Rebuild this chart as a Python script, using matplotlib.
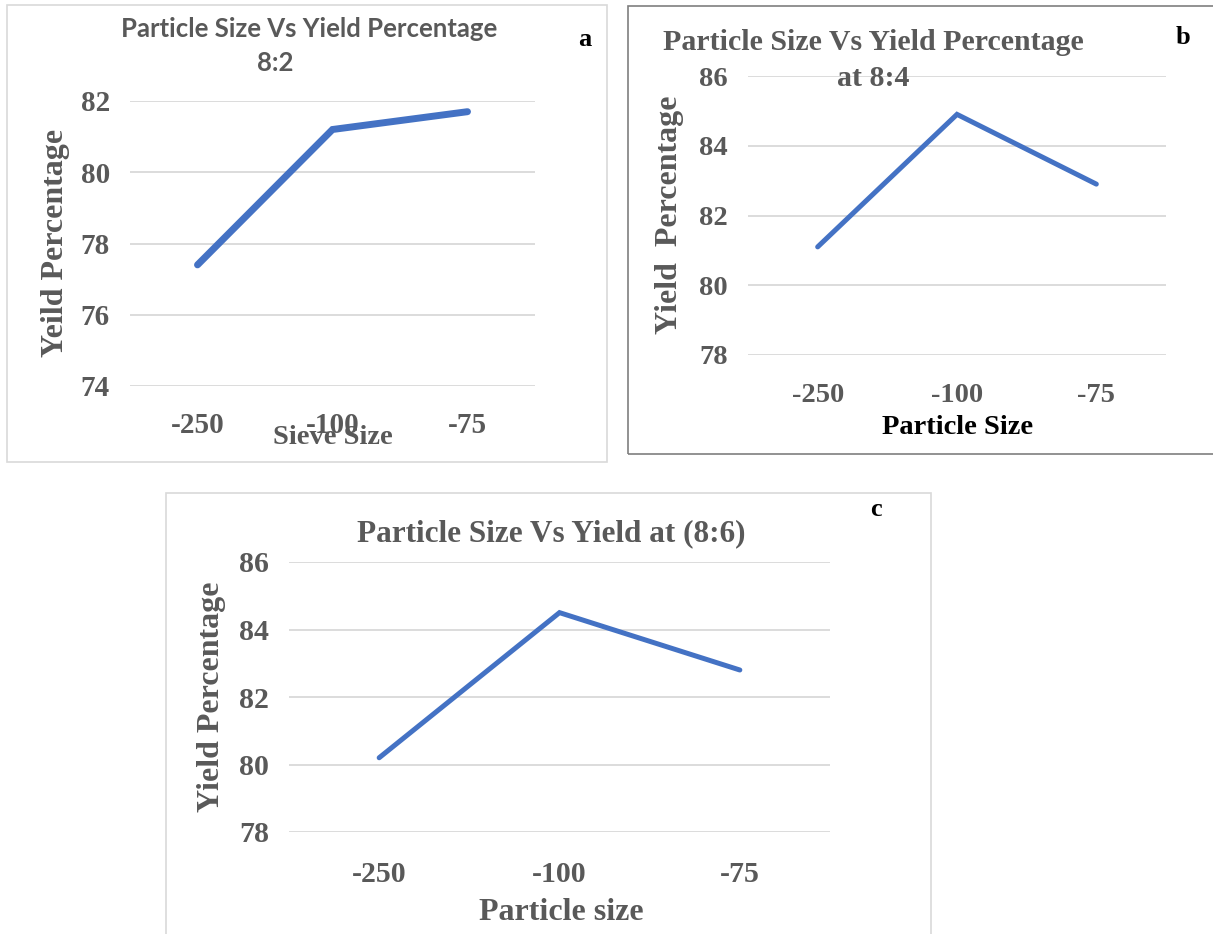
import matplotlib
matplotlib.use("Agg")
import matplotlib.pyplot as plt
from matplotlib.patches import Rectangle

# data
sizes = ["-250", "-100", "-75"]
yield_8_2 = [77.4, 81.2, 81.7]
yield_8_4 = [81.1, 84.9, 82.9]
yield_8_6 = [80.2, 84.5, 82.8]

W, H = 1213, 934
BLUE = "#4472C4"
GRAY = "#595959"
GRID = "#D9D9D9"
SERIF = "Liberation Serif"

fig = plt.figure(figsize=(W / 100, H / 100), dpi=100)


def box(x0, y0, x1, y1, color):
    fig.patches.append(Rectangle((x0 / W, 1 - y1 / H), (x1 - x0) / W, (y1 - y0) / H,
                                 transform=fig.transFigure, fill=False,
                                 edgecolor=color, lw=1.2))


def txt(x, y, s, size, color=GRAY, family=SERIF, rot=0):
    fig.text(x / W, 1 - y / H, s, ha="center", va="center", fontsize=size,
             color=color, family=family, fontweight="bold", rotation=rot)


def panel(rect, values, ylim, lw, tick_fs, ypad, xpad):
    x0, y0, x1, y1 = rect
    ax = fig.add_axes([x0 / W, 1 - y1 / H, (x1 - x0) / W, (y1 - y0) / H])
    ax.plot(range(len(sizes)), values, color=BLUE, lw=lw,
            solid_capstyle="round", solid_joinstyle="miter", clip_on=False, zorder=3)
    ax.set_xlim(-0.5, len(sizes) - 0.5)
    ax.set_ylim(*ylim)
    ax.set_yticks(range(ylim[0], ylim[1] + 1, 2))
    ax.set_xticks(range(len(sizes)))
    ax.set_xticklabels(sizes)
    ax.yaxis.grid(True, color=GRID, lw=1.3)
    ax.set_axisbelow(True)
    for s in ax.spines.values():
        s.set_visible(False)
    ax.tick_params(length=0, labelcolor=GRAY, labelsize=tick_fs)
    ax.tick_params(axis="y", pad=ypad)
    ax.tick_params(axis="x", pad=xpad)
    for t in ax.get_xticklabels() + ax.get_yticklabels():
        t.set_fontfamily(SERIF)
        t.set_fontweight("bold")
    ax.patch.set_alpha(0)
    return ax


# panel a
box(7, 5, 607, 462, "#D9D9D9")
panel((130, 101, 535, 386), yield_8_2, (74, 82), 5, 21, 14.5, 19)
txt(309, 29, "Particle Size Vs Yield Percentage", 18.5, family="Lato")
txt(275, 63, "8:2", 18.5, family="Lato")
txt(585, 40, "a", 19, color="black")
txt(55, 243, "Yeild Percentage", 23, rot=90)
txt(333, 438, "Sieve Size", 20.5)

# panel b
box(628, 6, 1225, 454, "#7F7F7F")
panel((748, 76, 1166, 355), yield_8_4, (78, 86), 3.6, 20.5, 14.5, 20)
txt(873, 42, "Particle Size Vs Yield Percentage", 21.5)
txt(873, 78, "at 8:4", 21.5)
txt(1183, 38, "b", 19, color="black")
txt(670, 215, "Yield  Percentage", 23, rot=90)
txt(958, 428, "Particle Size", 20.5, color="black")

# panel c
box(166, 493, 931, 945, "#D9D9D9")
panel((289, 562, 830, 832), yield_8_6, (78, 86), 3.6, 21.5, 14.5, 21)
txt(551, 534, "Particle Size Vs Yield at (8:6)", 22.5)
txt(876, 510, "c", 19, color="black")
txt(211, 697, "Yield Percentage", 23, rot=90)
txt(561, 912, "Particle size", 23)

fig.savefig("out.png", dpi=100)
